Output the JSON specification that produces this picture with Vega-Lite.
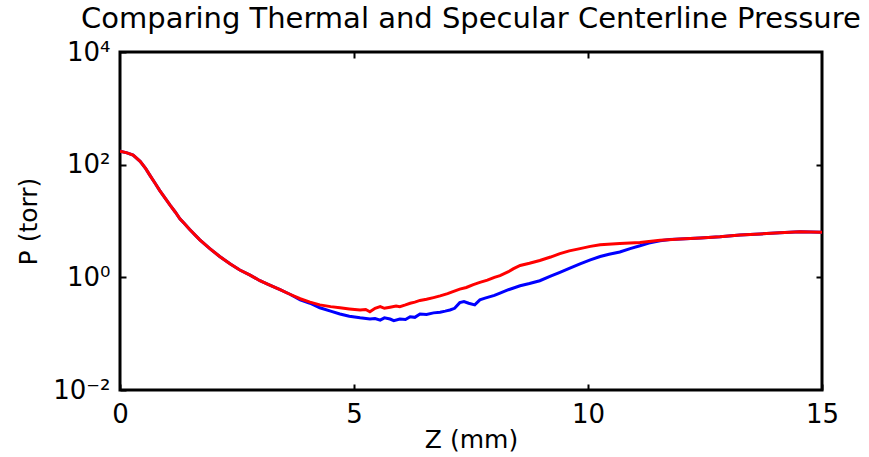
{
  "$schema": "https://vega.github.io/schema/vega-lite/v6.json",
  "width": 702,
  "height": 338,
  "autosize": {"type": "none"},
  "padding": {"left": 120, "top": 52, "right": 47, "bottom": 67},
  "background": "white",
  "title": {"text": "Comparing Thermal and Specular Centerline Pressure", "font": "DejaVu Sans", "fontSize": 29, "fontWeight": "normal", "color": "black", "anchor": "middle", "offset": 5},
  "config": {
    "view": {"stroke": "black", "strokeWidth": 3},
    "axis": {"grid": false, "domain": false, "tickColor": "black", "tickWidth": 2, "tickSize": 6, "offset": -6, "labelFlush": false, "labelFont": "DejaVu Sans", "labelFontSize": 26, "labelColor": "black", "titleFont": "DejaVu Sans", "titleFontSize": 25, "titleFontWeight": "normal", "titleColor": "black"}
  },
  "data": {"values": [
    {"z": 0, "p": 173.8, "s": "Thermal"}, {"z": 0.15, "p": 162.2, "s": "Thermal"}, {"z": 0.28, "p": 147.9, "s": "Thermal"}, {"z": 0.43, "p": 114.8, "s": "Thermal"}, {"z": 0.55, "p": 85.1, "s": "Thermal"}, {"z": 0.64, "p": 64.6, "s": "Thermal"}, {"z": 0.75, "p": 46.8, "s": "Thermal"}, {"z": 0.85, "p": 34.7, "s": "Thermal"}, {"z": 0.96, "p": 25.7, "s": "Thermal"}, {"z": 1.07, "p": 19.05, "s": "Thermal"}, {"z": 1.18, "p": 14.45, "s": "Thermal"}, {"z": 1.28, "p": 10.96, "s": "Thermal"}, {"z": 1.38, "p": 8.91, "s": "Thermal"}, {"z": 1.49, "p": 7.08, "s": "Thermal"}, {"z": 1.7, "p": 4.68, "s": "Thermal"}, {"z": 1.92, "p": 3.24, "s": "Thermal"}, {"z": 2.13, "p": 2.34, "s": "Thermal"}, {"z": 2.35, "p": 1.738, "s": "Thermal"}, {"z": 2.56, "p": 1.349, "s": "Thermal"}, {"z": 2.78, "p": 1.096, "s": "Thermal"}, {"z": 2.99, "p": 0.871, "s": "Thermal"}, {"z": 3.2, "p": 0.724, "s": "Thermal"}, {"z": 3.42, "p": 0.603, "s": "Thermal"}, {"z": 3.63, "p": 0.501, "s": "Thermal"},
    {"z": 3.85, "p": 0.398, "s": "Thermal"}, {"z": 4.06, "p": 0.347, "s": "Thermal"}, {"z": 4.27, "p": 0.288, "s": "Thermal"}, {"z": 4.5, "p": 0.251, "s": "Thermal"}, {"z": 4.7, "p": 0.224, "s": "Thermal"}, {"z": 4.9, "p": 0.204, "s": "Thermal"}, {"z": 5.13, "p": 0.191, "s": "Thermal"}, {"z": 5.34, "p": 0.182, "s": "Thermal"}, {"z": 5.45, "p": 0.186, "s": "Thermal"}, {"z": 5.56, "p": 0.174, "s": "Thermal"}, {"z": 5.65, "p": 0.191, "s": "Thermal"}, {"z": 5.77, "p": 0.182, "s": "Thermal"}, {"z": 5.85, "p": 0.17, "s": "Thermal"}, {"z": 5.98, "p": 0.182, "s": "Thermal"}, {"z": 6.1, "p": 0.178, "s": "Thermal"}, {"z": 6.2, "p": 0.2, "s": "Thermal"}, {"z": 6.3, "p": 0.195, "s": "Thermal"}, {"z": 6.41, "p": 0.224, "s": "Thermal"}, {"z": 6.55, "p": 0.219, "s": "Thermal"}, {"z": 6.7, "p": 0.234, "s": "Thermal"}, {"z": 6.84, "p": 0.24, "s": "Thermal"}, {"z": 6.95, "p": 0.251, "s": "Thermal"}, {"z": 7.05, "p": 0.263, "s": "Thermal"}, {"z": 7.15, "p": 0.282, "s": "Thermal"}, {"z": 7.26, "p": 0.355, "s": "Thermal"}, {"z": 7.35, "p": 0.372, "s": "Thermal"}, {"z": 7.45, "p": 0.347, "s": "Thermal"}, {"z": 7.58, "p": 0.324, "s": "Thermal"}, {"z": 7.69, "p": 0.398, "s": "Thermal"}, {"z": 7.8, "p": 0.427, "s": "Thermal"}, {"z": 8.0, "p": 0.479, "s": "Thermal"}, {"z": 8.12, "p": 0.525, "s": "Thermal"}, {"z": 8.3, "p": 0.603, "s": "Thermal"}, {"z": 8.55, "p": 0.708, "s": "Thermal"}, {"z": 8.75, "p": 0.776, "s": "Thermal"}, {"z": 8.97, "p": 0.871, "s": "Thermal"}, {"z": 9.2, "p": 1.047, "s": "Thermal"}, {"z": 9.4, "p": 1.23, "s": "Thermal"}, {"z": 9.6, "p": 1.445, "s": "Thermal"}, {"z": 9.83, "p": 1.738, "s": "Thermal"}, {"z": 10.05, "p": 2.042, "s": "Thermal"}, {"z": 10.26, "p": 2.344, "s": "Thermal"}, {"z": 10.45, "p": 2.57, "s": "Thermal"}, {"z": 10.68, "p": 2.818, "s": "Thermal"}, {"z": 10.9, "p": 3.236, "s": "Thermal"}, {"z": 11.11, "p": 3.631, "s": "Thermal"}, {"z": 11.3, "p": 4.074, "s": "Thermal"}, {"z": 11.54, "p": 4.467, "s": "Thermal"}, {"z": 11.75, "p": 4.677, "s": "Thermal"}, {"z": 11.97, "p": 4.786, "s": "Thermal"}, {"z": 12.4, "p": 5.012, "s": "Thermal"}, {"z": 12.82, "p": 5.248, "s": "Thermal"}, {"z": 13.25, "p": 5.623, "s": "Thermal"}, {"z": 13.68, "p": 5.888, "s": "Thermal"}, {"z": 14.1, "p": 6.166, "s": "Thermal"}, {"z": 14.53, "p": 6.457, "s": "Thermal"}, {"z": 15, "p": 6.31, "s": "Thermal"},
    {"z": 0, "p": 173.8, "s": "Specular"}, {"z": 0.15, "p": 162.2, "s": "Specular"}, {"z": 0.28, "p": 147.9, "s": "Specular"}, {"z": 0.43, "p": 114.8, "s": "Specular"}, {"z": 0.55, "p": 85.1, "s": "Specular"}, {"z": 0.64, "p": 64.6, "s": "Specular"}, {"z": 0.75, "p": 46.8, "s": "Specular"}, {"z": 0.85, "p": 34.7, "s": "Specular"}, {"z": 0.96, "p": 25.7, "s": "Specular"}, {"z": 1.07, "p": 19.05, "s": "Specular"}, {"z": 1.18, "p": 14.45, "s": "Specular"}, {"z": 1.28, "p": 10.96, "s": "Specular"}, {"z": 1.38, "p": 8.91, "s": "Specular"}, {"z": 1.49, "p": 7.08, "s": "Specular"}, {"z": 1.7, "p": 4.68, "s": "Specular"}, {"z": 1.92, "p": 3.24, "s": "Specular"}, {"z": 2.13, "p": 2.34, "s": "Specular"}, {"z": 2.35, "p": 1.738, "s": "Specular"}, {"z": 2.56, "p": 1.349, "s": "Specular"}, {"z": 2.78, "p": 1.096, "s": "Specular"}, {"z": 2.99, "p": 0.871, "s": "Specular"}, {"z": 3.2, "p": 0.724, "s": "Specular"}, {"z": 3.42, "p": 0.603, "s": "Specular"}, {"z": 3.63, "p": 0.501, "s": "Specular"},
    {"z": 3.85, "p": 0.417, "s": "Specular"}, {"z": 4.06, "p": 0.363, "s": "Specular"}, {"z": 4.27, "p": 0.324, "s": "Specular"}, {"z": 4.5, "p": 0.302, "s": "Specular"}, {"z": 4.7, "p": 0.288, "s": "Specular"}, {"z": 4.9, "p": 0.275, "s": "Specular"}, {"z": 5.13, "p": 0.263, "s": "Specular"}, {"z": 5.25, "p": 0.269, "s": "Specular"}, {"z": 5.34, "p": 0.245, "s": "Specular"}, {"z": 5.45, "p": 0.282, "s": "Specular"}, {"z": 5.56, "p": 0.302, "s": "Specular"}, {"z": 5.65, "p": 0.282, "s": "Specular"}, {"z": 5.77, "p": 0.295, "s": "Specular"}, {"z": 5.9, "p": 0.309, "s": "Specular"}, {"z": 5.98, "p": 0.302, "s": "Specular"}, {"z": 6.1, "p": 0.324, "s": "Specular"}, {"z": 6.2, "p": 0.347, "s": "Specular"}, {"z": 6.3, "p": 0.363, "s": "Specular"}, {"z": 6.41, "p": 0.389, "s": "Specular"}, {"z": 6.55, "p": 0.407, "s": "Specular"}, {"z": 6.7, "p": 0.437, "s": "Specular"}, {"z": 6.84, "p": 0.468, "s": "Specular"}, {"z": 7.0, "p": 0.513, "s": "Specular"}, {"z": 7.1, "p": 0.55, "s": "Specular"}, {"z": 7.26, "p": 0.617, "s": "Specular"}, {"z": 7.4, "p": 0.661, "s": "Specular"}, {"z": 7.55, "p": 0.741, "s": "Specular"}, {"z": 7.69, "p": 0.813, "s": "Specular"}, {"z": 7.85, "p": 0.891, "s": "Specular"}, {"z": 8.0, "p": 1.0, "s": "Specular"}, {"z": 8.12, "p": 1.072, "s": "Specular"}, {"z": 8.3, "p": 1.259, "s": "Specular"}, {"z": 8.4, "p": 1.413, "s": "Specular"}, {"z": 8.55, "p": 1.622, "s": "Specular"}, {"z": 8.75, "p": 1.778, "s": "Specular"}, {"z": 8.97, "p": 1.995, "s": "Specular"}, {"z": 9.2, "p": 2.291, "s": "Specular"}, {"z": 9.4, "p": 2.63, "s": "Specular"}, {"z": 9.6, "p": 2.951, "s": "Specular"}, {"z": 9.83, "p": 3.236, "s": "Specular"}, {"z": 10.05, "p": 3.548, "s": "Specular"}, {"z": 10.26, "p": 3.802, "s": "Specular"}, {"z": 10.68, "p": 3.981, "s": "Specular"}, {"z": 11.11, "p": 4.169, "s": "Specular"}, {"z": 11.54, "p": 4.571, "s": "Specular"}, {"z": 11.97, "p": 4.786, "s": "Specular"}, {"z": 12.4, "p": 5.012, "s": "Specular"}, {"z": 12.82, "p": 5.248, "s": "Specular"}, {"z": 13.25, "p": 5.623, "s": "Specular"}, {"z": 13.68, "p": 5.888, "s": "Specular"}, {"z": 14.1, "p": 6.166, "s": "Specular"}, {"z": 14.53, "p": 6.457, "s": "Specular"}, {"z": 15, "p": 6.31, "s": "Specular"}
  ]},
  "layer": [
    {
      "transform": [{"filter": "datum.s == 'Thermal'"}],
      "mark": {"type": "line", "color": "#0000ff", "strokeWidth": 3, "clip": true},
      "encoding": {
        "x": {"field": "z", "type": "quantitative", "scale": {"domain": [0, 15], "nice": false}, "axis": {"values": [0, 5, 10, 15], "title": "Z (mm)", "labelPadding": 11, "titlePadding": 0}},
        "y": {"field": "p", "type": "quantitative", "scale": {"type": "log", "domain": [0.01, 10000], "nice": false}, "axis": {"values": [0.01, 1, 100, 10000], "labelExpr": "datum.value >= 5000 ? '10⁴' : datum.value >= 50 ? '10²' : datum.value >= 0.5 ? '10⁰' : '10⁻²'", "title": "P (torr)", "labelPadding": 10, "titlePadding": 11}}
      }
    },
    {
      "transform": [{"filter": "datum.s == 'Specular'"}],
      "mark": {"type": "line", "color": "#ff0000", "strokeWidth": 3, "clip": true},
      "encoding": {
        "x": {"field": "z", "type": "quantitative", "axis": null},
        "y": {"field": "p", "type": "quantitative", "axis": null}
      }
    },
    {
      "mark": {"type": "line", "opacity": 0},
      "encoding": {
        "x": {"field": "z", "type": "quantitative", "axis": {"orient": "top", "values": [5, 10], "labels": false, "title": null}},
        "y": {"field": "p", "type": "quantitative", "axis": {"orient": "right", "values": [1, 100], "labels": false, "title": null}}
      }
    }
  ],
  "resolve": {"axis": {"x": "independent", "y": "independent"}}
}
